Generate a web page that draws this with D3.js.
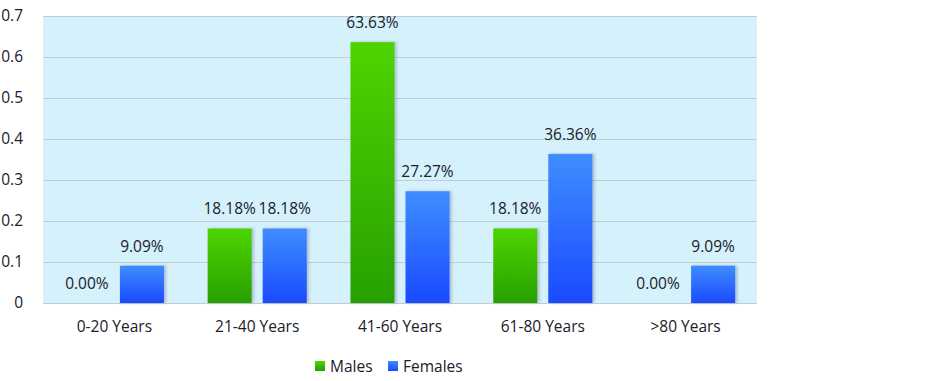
<!DOCTYPE html>
<html>
<head>
<meta charset="utf-8">
<script src="https://cdn.jsdelivr.net/npm/d3@7"></script>
<style>
  body { margin: 0; background: #fff; }
  svg text { font-family: "Open Sans", "Noto Sans", sans-serif; fill: #1b2029; }
</style>
</head>
<body>
<svg id="chart" width="936" height="381"></svg>
<script>
// Age groups split by gender, shares of total

const categories = ["0-20 Years", "21-40 Years", "41-60 Years", "61-80 Years", ">80 Years"];
const series = ["Males", "Females"];
const males = [0.0, 0.1818, 0.6363, 0.1818, 0.0];
const females = [0.0909, 0.1818, 0.2727, 0.3636, 0.0909];
const yTicks = [0, 0.1, 0.2, 0.3, 0.4, 0.5, 0.6, 0.7];

const svg = d3.select("#chart");

const plotLeft = 43, plotRight = 757, plotTop = 16, plotBottom = 303;

const x0 = d3.scaleBand().domain(categories).range([plotLeft, plotRight]).padding(0);
const x1 = d3.scaleBand().domain(series)
  .range([x0.bandwidth() * 0.153, x0.bandwidth() * 0.847])
  .paddingInner(0.2).paddingOuter(0);
const y = d3.scaleLinear().domain([0, 0.7]).range([plotBottom, plotTop]);

const defs = svg.append("defs");

const grads = [
  {id: "gMales", top: "#4fd400", bot: "#27a000"},
  {id: "gFemales", top: "#3f8dff", bot: "#1a4aff"}
];
grads.forEach(g => {
  const lg = defs.append("linearGradient").attr("id", g.id)
    .attr("x1", 0).attr("y1", 0).attr("x2", 0).attr("y2", 1);
  lg.append("stop").attr("offset", "0%").attr("stop-color", g.top);
  lg.append("stop").attr("offset", "100%").attr("stop-color", g.bot);
});

const shadow = defs.append("filter").attr("id", "shadow")
  .attr("x", "-20%").attr("y", "-10%").attr("width", "150%").attr("height", "120%");
shadow.append("feDropShadow").attr("dx", 2).attr("dy", 0).attr("stdDeviation", 1.5)
  .attr("flood-color", "#557").attr("flood-opacity", 0.35);

// plot background
svg.append("rect")
  .attr("x", plotLeft).attr("y", plotTop)
  .attr("width", plotRight - plotLeft).attr("height", plotBottom - plotTop)
  .attr("fill", "#d4f1fc");

// grid
svg.append("g").selectAll("line").data(yTicks).enter().append("line")
  .attr("x1", plotLeft).attr("x2", plotRight)
  .attr("y1", d => Math.round(y(d)) + 0.5).attr("y2", d => Math.round(y(d)) + 0.5)
  .attr("stroke", "#c4ccd2").attr("stroke-width", 1);

// y axis
const yAxis = svg.append("g")
  .attr("transform", "translate(" + (plotLeft - 17) + ",0)")
  .call(d3.axisLeft(y).tickValues(yTicks).tickSize(0).tickFormat(d => d3.format("")(+d.toFixed(1))));
yAxis.select(".domain").remove();
yAxis.selectAll("text").attr("font-size", "15.5px").attr("dx", 0);

// x axis
const xAxis = svg.append("g")
  .attr("transform", "translate(0," + (plotBottom + 15) + ")")
  .call(d3.axisBottom(x0).tickSize(0));
xAxis.select(".domain").remove();
xAxis.selectAll("text").attr("font-size", "15.5px");

// bars
const rows = categories.map((c, i) => ({cat: c, vals: [males[i], females[i]]}));

const groups = svg.append("g").selectAll("g").data(rows).enter().append("g")
  .attr("transform", d => "translate(" + x0(d.cat) + ",0)");

groups.selectAll("rect").data(d => d.vals.map((v, j) => ({key: series[j], v: v})))
  .enter().append("rect")
  .attr("x", d => x1(d.key))
  .attr("y", d => y(d.v))
  .attr("width", x1.bandwidth())
  .attr("height", d => y(0) - y(d.v))
  .attr("fill", d => "url(#g" + d.key + ")")
  .attr("filter", d => d.v > 0 ? "url(#shadow)" : null);

groups.selectAll("text.val").data(d => d.vals.map((v, j) => ({key: series[j], v: v})))
  .enter().append("text")
  .attr("class", "val")
  .attr("x", d => x1(d.key) + x1.bandwidth() / 2)
  .attr("y", d => y(d.v) - 14)
  .attr("text-anchor", "middle")
  .attr("font-size", "15.5px")
  .text(d => (d.v * 100).toFixed(2) + "%");

// legend
const legend = svg.append("g").attr("transform", "translate(315,361)");
const legendX = [0, 73];
series.forEach((s, i) => {
  const g = legend.append("g").attr("transform", "translate(" + legendX[i] + ",0)");
  g.append("rect").attr("width", 10).attr("height", 10).attr("fill", "url(#g" + s + ")");
  g.append("text").attr("x", 15).attr("y", 10.5).attr("font-size", "15.5px").text(s);
});
</script>
</body>
</html>
